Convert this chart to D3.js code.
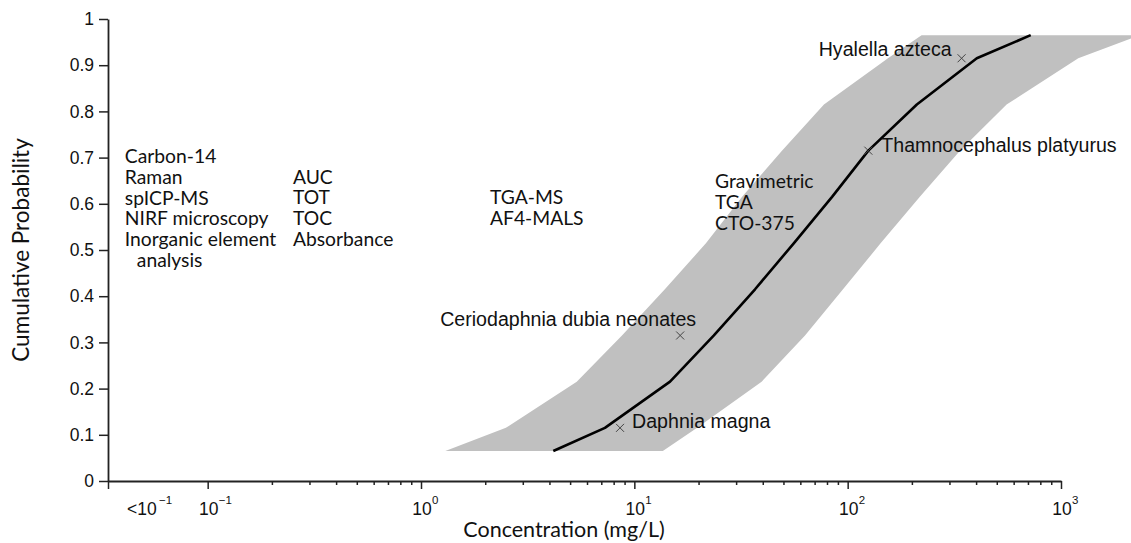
<!DOCTYPE html>
<html>
<head>
<meta charset="utf-8">
<script src="https://cdn.jsdelivr.net/npm/d3@7"></script>
<style>
  body { margin: 0; background: #fff; }
  svg { display: block; }
</style>
</head>
<body>
<div id="chart"></div>
<script>
// cumulative probability levels of the fitted distribution
var probs = [0.065, 0.115, 0.215, 0.315, 0.415, 0.515, 0.615, 0.715, 0.815, 0.915, 0.965];
// fitted curve and its confidence band (mg/L)
var fitConc   = [4.17, 7.28, 14.7, 23.6, 36.8, 56.0, 84.5, 125, 211, 403, 721];
var lowerConc = [1.30, 2.50, 5.37, 8.75, 13.9, 21.7, 32.0, 49.2, 77.4, 154.5, 222];
var upperConc = [13.6, 19.7, 39.5, 63.1, 95.1, 143, 218, 336, 556, 1205, 2345];

// tested species
var species     = ["Daphnia magna", "Ceriodaphnia dubia neonates", "Thamnocephalus platyurus", "Hyalella azteca"];
var speciesConc = [8.57, 16.4, 125, 342];
var speciesProb = [0.115, 0.315, 0.715, 0.915];

// analytical methods by concentration range
var methodsLow   = ["Carbon-14", "Raman", "spICP-MS", "NIRF microscopy", "Inorganic element\nanalysis"];
var methodsTenth = ["AUC", "TOT", "TOC", "Absorbance"];
var methodsOne   = ["TGA-MS", "AF4-MALS"];
var methodsTen   = ["Gravimetric", "TGA", "CTO-375"];

var yTicks = [0, 0.1, 0.2, 0.3, 0.4, 0.5, 0.6, 0.7, 0.8, 0.9, 1];
var xMajor = [0.1, 1, 10, 100, 1000];
var xMajorExp = ["\u22121", "0", "1", "2", "3"];
var xMin = 0.0341;   // left end of axis, the "<10^-1" bin

var width = 1131, height = 543;
var margin = { top: 19, right: 70, bottom: 62, left: 108 };

var svg = d3.select("#chart").append("svg")
    .attr("width", width)
    .attr("height", height);

var x = d3.scaleLog()
    .domain([xMin, 1000])
    .range([margin.left, width - margin.right]);

var y = d3.scaleLinear()
    .domain([0, 1])
    .range([height - margin.bottom, margin.top]);

var sansCal = "Lato, 'Open Sans', sans-serif";
var sansAr = "'Liberation Sans', Arial, sans-serif";

// band
var bandData = probs.map(function(p, i) { return { p: p, lo: lowerConc[i], hi: upperConc[i] }; });
var band = d3.area()
    .y(d => y(d.p))
    .x0(d => x(d.lo))
    .x1(d => x(d.hi));

svg.append("path")
    .datum(bandData)
    .attr("d", band)
    .attr("fill", "#c0c0c0");

// fitted line
var fitData = probs.map(function(p, i) { return { p: p, c: fitConc[i] }; });
var line = d3.line()
    .x(d => x(d.c))
    .y(d => y(d.p));

svg.append("path")
    .datum(fitData)
    .attr("d", line)
    .attr("fill", "none")
    .attr("stroke", "#000")
    .attr("stroke-width", 2.6)
    .attr("stroke-linejoin", "round");

// species markers
var spData = species.map(function(s, i) { return { name: s, c: speciesConc[i], p: speciesProb[i] }; });
var labelPos = {
    "Daphnia magna": { dx: 12, dy: 0, anchor: "start" },
    "Ceriodaphnia dubia neonates": { dx: 16, dy: -9, anchor: "end" },
    "Thamnocephalus platyurus": { dx: 13, dy: 1, anchor: "start" },
    "Hyalella azteca": { dx: -10, dy: -2, anchor: "end" }
};

var sp = svg.append("g").selectAll("g")
    .data(spData)
    .enter().append("g")
    .attr("transform", d => `translate(${x(d.c)},${y(d.p)})`);

sp.append("path")
    .attr("d", "M-4,-4L4,4M-4,4L4,-4")
    .attr("stroke", "#444")
    .attr("stroke-width", 1);

sp.append("text")
    .attr("x", d => labelPos[d.name].dx)
    .attr("y", d => labelPos[d.name].dy)
    .attr("text-anchor", d => labelPos[d.name].anchor)
    .style("font-family", sansAr)
    .style("font-size", "19.6px")
    .attr("fill", "#111")
    .text(d => d.name);

// method lists
var lineH = 20.7;
function methodBlock(list, c, p) {
    var lines = [];
    list.forEach(function(m) {
        m.split("\n").forEach(function(t, j) { lines.push({ t: t, indent: j > 0 }); });
    });
    svg.append("g")
        .selectAll("text")
        .data(lines)
        .enter().append("text")
        .attr("x", d => x(c) + (d.indent ? 12 : 0))
        .attr("y", (d, i) => y(p) + i * lineH)
        .style("font-family", sansCal)
        .style("font-size", "19.3px")
        .attr("fill", "#111")
        .text(d => d.t);
}
methodBlock(methodsLow, 0.0409, 0.688);
methodBlock(methodsTenth, 0.251, 0.6435);
methodBlock(methodsOne, 2.105, 0.599);
methodBlock(methodsTen, 23.9, 0.6335);

// axes
var yAxis = d3.axisLeft(y)
    .tickValues(yTicks)
    .tickSize(9)
    .tickPadding(5)
    .tickSizeOuter(0)
    .tickFormat(d3.format("~g"));

var gy = svg.append("g")
    .attr("transform", `translate(${margin.left},0)`)
    .call(yAxis);
gy.selectAll("text")
    .style("font-family", sansAr)
    .style("font-size", "17.5px")
    .attr("fill", "#111");

var minors = [];
[-1, 0, 1, 2].forEach(function(e) {
    for (var k = 2; k <= 9; k++) minors.push(k * Math.pow(10, e));
});

var gxMinor = svg.append("g")
    .attr("transform", `translate(0,${y(0)})`)
    .call(d3.axisBottom(x).tickValues(minors).tickSize(4).tickFormat(""));
gxMinor.select(".domain").remove();

var gx = svg.append("g")
    .attr("transform", `translate(0,${y(0)})`)
    .call(d3.axisBottom(x).tickValues([xMin].concat(xMajor)).tickSize(8).tickSizeOuter(0).tickFormat(""));

svg.selectAll(".domain").attr("stroke", "#222").attr("stroke-width", 1.8);
svg.selectAll(".tick line").attr("stroke", "#222").attr("stroke-width", 1.5);

// x tick labels with superscripts
var xl = svg.append("g")
    .style("font-family", sansAr)
    .attr("fill", "#111");

xMajor.forEach(function(v, i) {
    xl.append("text")
        .attr("x", x(v) + 1)
        .attr("y", y(0) + 34)
        .attr("text-anchor", "middle")
        .style("font-size", "17.5px")
        .text("10");
    xl.append("text")
        .attr("x", x(v) + 11)
        .attr("y", y(0) + 23)
        .style("font-size", "11.5px")
        .text(xMajorExp[i]);
});
xl.append("text")
    .attr("x", x(xMin) + 19)
    .attr("y", y(0) + 34)
    .style("font-size", "17.5px")
    .text("<10");
xl.append("text")
    .attr("x", x(xMin) + 51)
    .attr("y", y(0) + 23)
    .style("font-size", "11.5px")
    .text("\u22121");

// axis titles
svg.append("text")
    .attr("x", 564)
    .attr("y", 537)
    .attr("text-anchor", "middle")
    .style("font-family", sansCal)
    .style("font-size", "21.5px")
    .attr("fill", "#111")
    .text("Concentration (mg/L)");

svg.append("text")
    .attr("transform", `translate(29, ${(y(0) + y(1)) / 2}) rotate(-90)`)
    .attr("text-anchor", "middle")
    .style("font-family", sansCal)
    .style("font-size", "22.5px")
    .attr("fill", "#111")
    .text("Cumulative Probability");
</script>
</body>
</html>
